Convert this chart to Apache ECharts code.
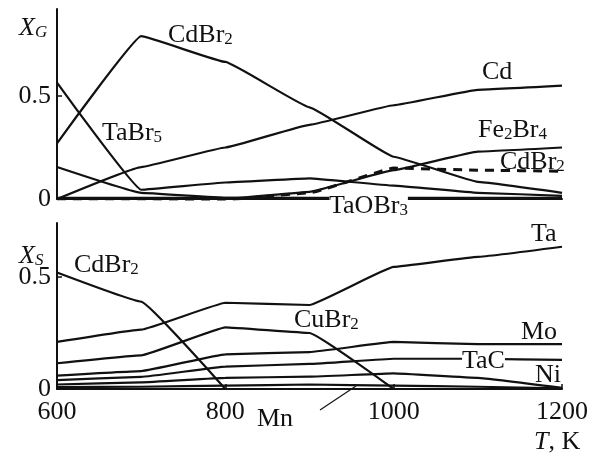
<!DOCTYPE html>
<html>
<head>
<meta charset="utf-8">
<script src="https://cdn.jsdelivr.net/npm/echarts@6/dist/echarts.min.js"></script>
<style>
  html, body { margin: 0; padding: 0; background: #fff; }
  #main { width: 597px; height: 457px; }
</style>
</head>
<body>
<div id="main"></div>
<script>
// temperature, K
const temps = [600, 700, 800, 900, 1000, 1100, 1200];

// gas phase, X_G
const gasCdBr2 = [0.27, 0.79, 0.665, 0.445, 0.205, 0.083, 0.03];
const gasCd = [0, 0.155, 0.25, 0.36, 0.455, 0.53, 0.55];
const gasTaBr5 = [0.565, 0.045, 0.08, 0.10, 0.065, 0.03, 0.015];
const gasOther = [0.155, 0.03, 0.006, 0.004, 0.003, 0.003, 0.003];
const gasFe2Br4 = [0, 0, 0, 0.035, 0.14, 0.23, 0.25];
const gasCdBr2Dash = [0, 0, -0.004, 0.03, 0.15, 0.14, 0.135];
const gasTaOBr3 = [0.006, 0.006, 0.005, 0.005, 0.005, 0.005, 0.005];

// solid phase, X_S
const solTa = [0.21, 0.265, 0.385, 0.375, 0.545, 0.59, 0.635];
const solCdBr2 = [0.52, 0.39, 0, null, null, null, null];
const solCuBr2 = [0.115, 0.15, 0.275, 0.25, 0, null, null];
const solMo = [0.06, 0.08, 0.155, 0.165, 0.21, 0.2, 0.2];
const solTaC = [0.04, 0.054, 0.10, 0.112, 0.135, 0.135, 0.13];
const solNi = [0.02, 0.03, 0.05, 0.055, 0.07, 0.05, 0.005];
const solMn = [0.008, 0.01, 0.015, 0.02, 0.015, 0.01, 0.003];

const yTicks = [0, 0.5];

const FONT = 'Times New Roman, Liberation Serif, serif';

let chart = echarts.init(document.getElementById('main'));

function pairs(arr) {
  return temps.map((t, i) => [t, arr[i]]);
}

function line(data, gi, dashed) {
  return {
    type: 'line',
    xAxisIndex: gi,
    yAxisIndex: gi,
    data: pairs(data),
    showSymbol: false,
    smooth: 0.08,
    smoothMonotone: 'x',
    connectNulls: false,
    silent: true,
    lineStyle: {
      color: '#111',
      width: dashed ? 3 : 2.2,
      type: dashed ? [9, 7] : 'solid'
    }
  };
}

function xAx(gi, showLabels) {
  return {
    type: 'value',
    gridIndex: gi,
    min: 600,
    max: 1200,
    interval: 200,
    axisLine: {lineStyle: {color: '#111', width: 2}},
    axisTick: {show: showLabels, inside: true, length: 5, lineStyle: {color: '#111', width: 1.5}},
    axisLabel: {
      show: showLabels,
      fontFamily: FONT,
      fontSize: 26,
      color: '#111',
      margin: 10,
      formatter: v => String(v)
    },
    splitLine: {show: false}
  };
}

function yAx(gi, max) {
  return {
    type: 'value',
    gridIndex: gi,
    min: 0,
    max: max,
    interval: 0.5,
    axisLine: {show: true, lineStyle: {color: '#111', width: 2}},
    axisTick: {show: true, inside: true, length: 5, lineStyle: {color: '#111', width: 1.5}},
    axisLabel: {
      fontFamily: FONT,
      fontSize: 26,
      color: '#111',
      margin: 6,
      showMaxLabel: false,
      formatter: v => (yTicks.indexOf(v) >= 0 ? String(v) : '')
    },
    splitLine: {show: false}
  };
}

function label(txt, x, y, opts) {
  opts = opts || {};
  let st = opts.italic ? 'italic' : 'normal';
  return {
    type: 'text',
    x: x,
    y: y,
    z: 10,
    style: {
      text: txt,
      fill: '#111',
      fontFamily: FONT,
      fontSize: 26,
      fontStyle: st,
      textAlign: opts.align || 'left',
      textVerticalAlign: 'middle',
      backgroundColor: opts.bg || 'transparent',
      rich: {
        b: {fontFamily: FONT, fontSize: 26, lineHeight: 27, fontStyle: st, color: '#111'},
        s: {fontFamily: FONT, fontSize: 17, lineHeight: 27, verticalAlign: 'bottom', padding: [13, 0, 0, 0],
            fontStyle: st, color: '#111'}
      }
    }
  };
}

let option = {
  backgroundColor: '#fff',
  animation: false,
  grid: [
    {left: 57, top: 9, width: 505, height: 190},
    {left: 57, top: 223, width: 505, height: 166}
  ],
  xAxis: [xAx(0, false), xAx(1, true)],
  yAxis: [yAx(0, 0.922), yAx(1, 0.741)],
  series: [
    line(gasCdBr2, 0),
    line(gasCd, 0),
    line(gasTaBr5, 0),
    line(gasOther, 0),
    line(gasFe2Br4, 0),
    line(gasCdBr2Dash, 0, true),
    line(gasTaOBr3, 0),
    line(solTa, 1),
    line(solCdBr2, 1),
    line(solCuBr2, 1),
    line(solMo, 1),
    line(solTaC, 1),
    line(solNi, 1),
    line(solMn, 1)
  ],
  graphic: [
    label('{b|X}{s|G}', 19, 28, {italic: true}),
    label('{b|X}{s|S}', 19, 256, {italic: true}),
    label('{b|CdBr}{s|2}', 168, 35),
    label('{b|TaBr}{s|5}', 102, 133),
    label('{b|Cd}', 482, 72),
    label('{b|Fe}{s|2}{b|Br}{s|4}', 478, 130),
    label('{b|CdBr}{s|2}', 500, 162),
    label('{b|TaOBr}{s|3}', 329, 206, {bg: '#fff'}),
    label('{b|Ta}', 531, 234),
    label('{b|CdBr}{s|2}', 74, 265),
    label('{b|CuBr}{s|2}', 294, 320),
    label('{b|Mo}', 521, 332),
    label('{b|TaC}', 462, 361, {bg: '#fff'}),
    label('{b|Ni}', 535, 375),
    label('{b|Mn}', 257, 419),
    {
      type: 'text', x: 534, y: 442, z: 10,
      style: {
        text: '{i|T}{b|, K}', fill: '#111', textVerticalAlign: 'middle',
        rich: {
          i: {fontFamily: FONT, fontSize: 26, fontStyle: 'italic', color: '#111'},
          b: {fontFamily: FONT, fontSize: 26, color: '#111'}
        }
      }
    },
    {
      type: 'line', z: 10,
      shape: {x1: 320, y1: 410, x2: 356, y2: 386},
      style: {stroke: '#111', lineWidth: 1.2}
    }
  ]
};

chart.setOption(option);
</script>
</body>
</html>
